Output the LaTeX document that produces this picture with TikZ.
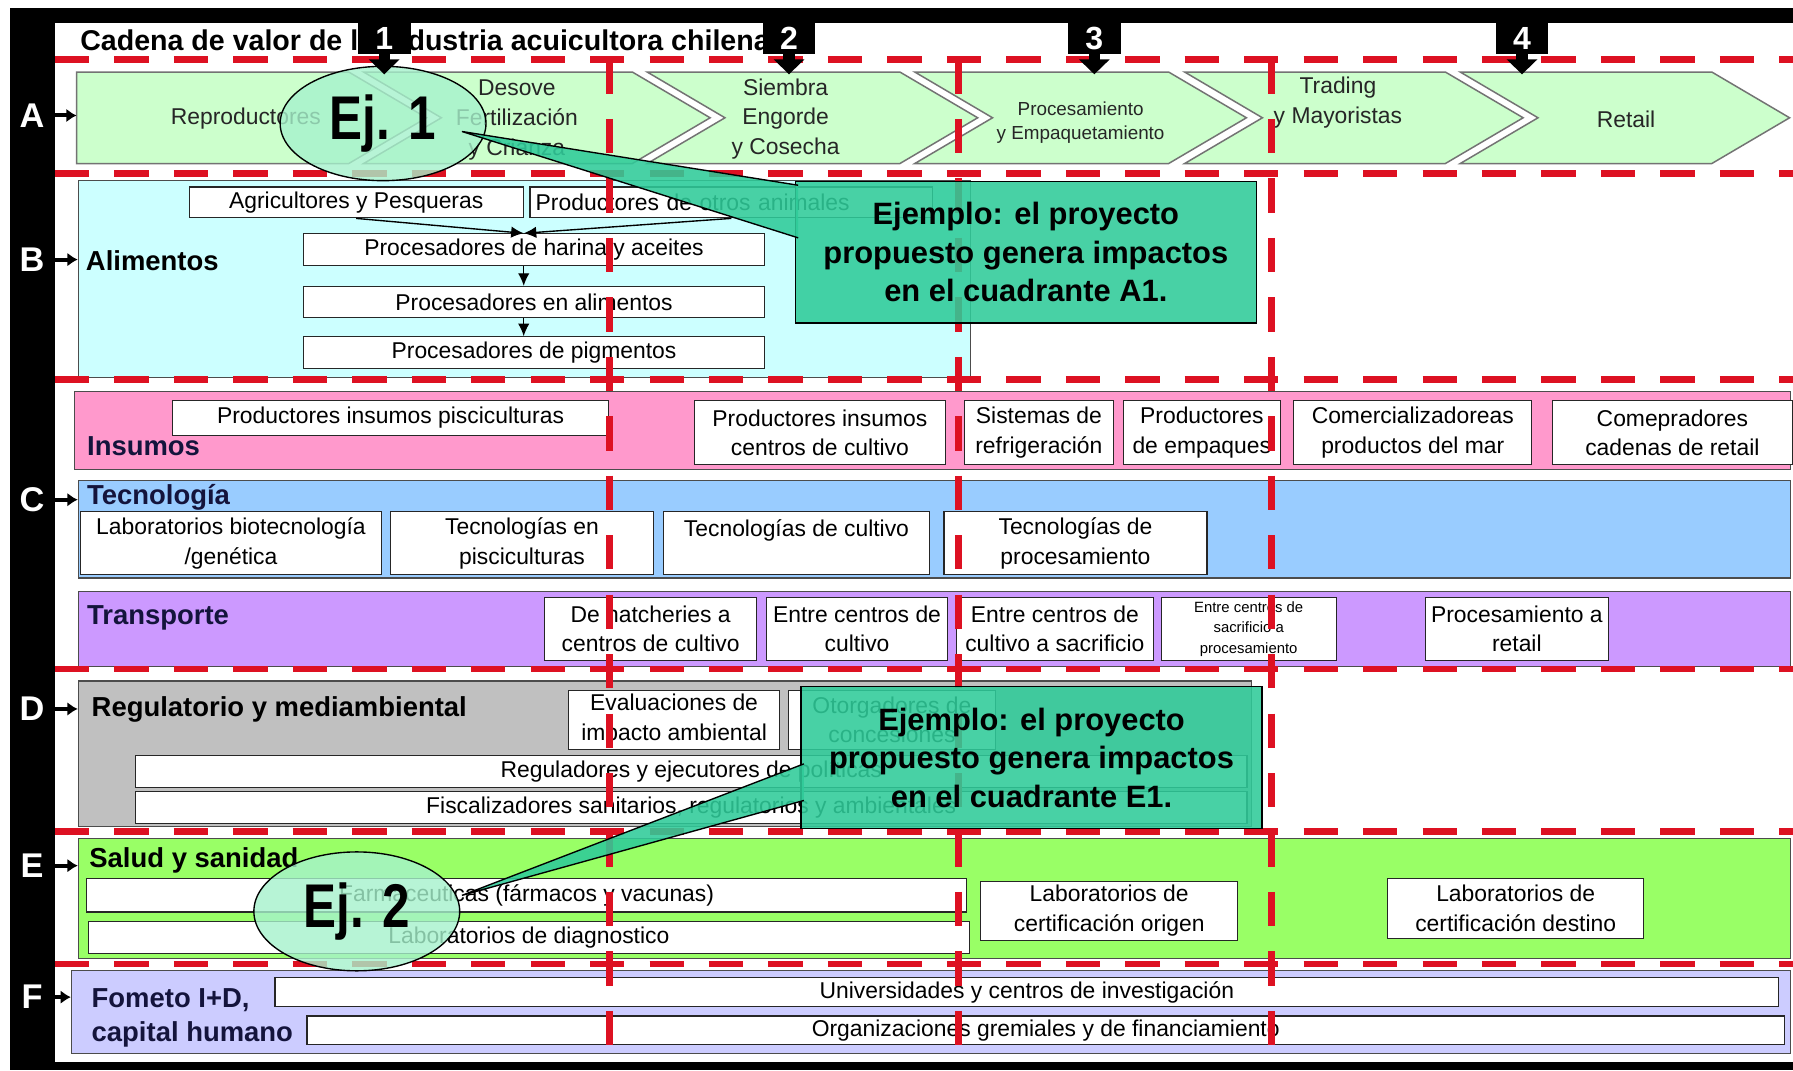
\documentclass[tikz,border=0pt]{standalone}
\usepackage{fontspec}
\setmainfont{Liberation Sans}
\newfontfamily\estrecha[FakeStretch=0.8]{Liberation Sans}
\usetikzlibrary{shapes.geometric, arrows.meta, positioning}
\definecolor{verdeA}{HTML}{CCFFCC}
\definecolor{cian}{HTML}{CCFFFF}
\definecolor{rosa}{HTML}{FF99CC}
\definecolor{celeste}{HTML}{99CCFF}
\definecolor{lila}{HTML}{CC99FF}
\definecolor{gris}{HTML}{C0C0C0}
\definecolor{pasto}{HTML}{99FF66}
\definecolor{lavanda}{HTML}{CCCCFF}
\definecolor{rojo}{HTML}{DD1122}
\definecolor{turquesa}{HTML}{2FCB99}
\definecolor{menta}{HTML}{A6F2CC}
\definecolor{marino}{HTML}{14143C}

\begin{document}
\begin{tikzpicture}[x=1pt, y=-1pt, >={Latex[length=11pt,width=10pt]},
  caja/.style 2 args={draw=black!85, line width=1pt, fill=white, align=center, inner sep=1pt,
    anchor=north west, minimum width=#1, minimum height=#2, font=\fontsize{20}{26}\selectfont},
  banda/.style 2 args={draw=black!70, line width=1pt, anchor=north west, inner sep=0pt,
    minimum width=#1, minimum height=#2},
  rotulo/.style={anchor=west, inner sep=0pt, text=marino, font=\fontsize{24}{30}\selectfont\bfseries},
  chev/.style={draw=black!55, line width=1.3pt, fill=verdeA},
  etapa/.style={align=center, text=black!85, font=\fontsize{20}{26}\selectfont},
  corte/.style={draw=rojo, line width=6pt, dash pattern=on 30pt off 22pt},
  ejemplo/.style={ellipse, draw=black, line width=1.2pt, fill=menta, fill opacity=0.8, text opacity=1,
    inner sep=0pt, font=\estrecha\fontsize{54}{54}\selectfont\bfseries},
  globo/.style={draw=black, line width=1.2pt, fill=turquesa, fill opacity=0.88, text opacity=1,
    align=center, anchor=north west, minimum width=403pt, minimum height=124pt,
    font=\fontsize{27}{33.5}\selectfont\bfseries},
  cola/.style={draw=black, line width=1.2pt, fill=turquesa, fill opacity=0.88},
  numero/.style={fill=black, text=white, inner sep=0pt, minimum width=46pt, minimum height=27pt,
    font=\fontsize{28}{28}\selectfont\bfseries},
  baja/.style={line width=10pt, -{Triangle[length=13pt,width=26pt]}},
  letra/.style={text=white, inner sep=0pt, font=\fontsize{30}{30}\selectfont\bfseries},
  entra/.style={line width=3.5pt, -{Latex[length=9pt,width=12pt]}}]

  \useasboundingbox (0,0) rectangle (1568,936);
  \fill[white] (0,0) rectangle (1568,936);
  % marco negro
  \fill[black] (9,7) rectangle (1568,20);
  \fill[black] (9,7) rectangle (48,936);
  \fill[black] (9,929) rectangle (1568,936);

  \node[anchor=west, inner sep=0pt, font=\fontsize{25}{30}\selectfont\bfseries] (titulo) at (70,35)
    {Cadena de valor de la industria acuicultora chilena};

  % A: etapas de la cadena
  \draw[chev] (67,63) -- (305,63) -- ++(68,40) -- (305,143) -- (67,143) -- cycle;
  \foreach \xa/\xb in {318/553, 566/787, 800/1022, 1036/1264, 1277/1497}
    \draw[chev] (\xa,63) -- (\xb,63) -- ++(68,40) -- (\xb,143) -- (\xa,143) -- ++(68,-40) -- cycle;
  \coordinate (ca) at (67,101);
  \node[etapa] (ch1) at (215,104) {Reproductores};
  \node[etapa] (ch2) at (452,105) {Desove\\Fertilización\\y Crianza};
  \node[etapa] (ch3) at (687,104) {Siembra\\Engorde\\y Cosecha};
  \node[etapa, font=\fontsize{16.5}{21}\selectfont] (ch4) at (945,107) {Procesamiento\\y Empaquetamiento};
  \node[etapa] (ch5) at (1170,90) {Trading\\y Mayoristas};
  \node[etapa] (ch6) at (1422,104) {Retail};

  % B: alimentos
  \node[banda={780pt}{173pt}, fill=cian] (bandaB) at (68,157) {};
  \node[rotulo, text=black] (tB) at (75,228) {Alimentos};
  \node[caja={292pt}{27pt}] (agri) at (165,163) {Agricultores y Pesqueras};
  \node[caja={352pt}{27pt}, text width=342pt, align=left, inner sep=4pt] (otros) at (463,163)
    {Productores de otros animales};
  \node[caja={403pt}{28pt}] (harina) at (265,204) {Procesadores de harina y aceites};
  \node[caja={403pt}{27pt}, below=17pt of harina] (alim) {Procesadores en alimentos};
  \node[caja={403pt}{28pt}, below=16pt of alim] (pigm) {Procesadores de pigmentos};
  \draw[->, line width=1.2pt] (agri.south) -- ([xshift=-9pt]harina.north);
  \draw[->, line width=1.2pt] (otros.south) -- ([xshift=-9pt]harina.north);
  \draw[->, line width=1.2pt] ([xshift=-9pt]harina.south) -- ([xshift=-9pt]alim.north);
  \draw[->, line width=1.2pt] ([xshift=-9pt]alim.south) -- ([xshift=-9pt]pigm.north);

  % C: insumos, tecnologia, transporte
  \node[banda={1500pt}{68pt}, fill=rosa] (bandaIns) at (65,342) {};
  \node[rotulo] (tIns) at (76,390) {Insumos};
  \node[caja={382pt}{30pt}] (ins1) at (150,350) {Productores insumos pisciculturas};
  \node[caja={219pt}{56pt}] (ins2) at (607,350) {Productores insumos\\centros de cultivo};
  \node[caja={130pt}{56pt}, right=16pt of ins2] (ins3) {Sistemas de\\refrigeración};
  \node[caja={137pt}{56pt}, right=8pt of ins3] (ins4) {Productores\\de empaques};
  \node[caja={208pt}{56pt}, right=11pt of ins4] (ins5) {Comercializadoreas\\productos del mar};
  \node[caja={210pt}{56pt}, right=17pt of ins5] (ins6) {Comepradores\\cadenas de retail};

  \node[banda={1497pt}{85pt}, fill=celeste] (bandaTec) at (68,420) {};
  \node[rotulo] (tTec) at (76,435) {Tecnología};
  \node[caja={263pt}{55pt}] (tec1) at (70,447) {Laboratorios biotecnología\\/genética};
  \node[caja={230pt}{55pt}, right=7pt of tec1] (tec2) {Tecnologías en\\pisciculturas};
  \node[caja={232pt}{55pt}, right=8pt of tec2] (tec3) {Tecnologías de cultivo\\~};
  \node[caja={230pt}{55pt}, right=12pt of tec3] (tec4) {Tecnologías de\\procesamiento};

  \node[banda={1497pt}{65pt}, fill=lila] (bandaTra) at (68,517) {};
  \node[rotulo] (tTra) at (76,540) {Transporte};
  \node[caja={185pt}{55pt}] (tra1) at (476,522) {De hatcheries a\\centros de cultivo};
  \node[caja={158pt}{55pt}, right=8pt of tra1] (tra2) {Entre centros de\\cultivo};
  \node[caja={172pt}{55pt}, right=7pt of tra2] (tra3) {Entre centros de\\cultivo a sacrificio};
  \node[caja={153pt}{55pt}, right=6pt of tra3, font=\fontsize{13}{18}\selectfont] (tra4)
    {Entre centros de\\sacrificio a\\procesamiento};
  \node[caja={160pt}{55pt}] (tra5) at (1246,522) {Procesamiento a\\retail};

  % D: regulatorio
  \node[banda={1026pt}{127pt}, fill=gris] (bandaReg) at (68,595) {};
  \node[rotulo, text=black] (tReg) at (80,620) {Regulatorio y mediambiental};
  \node[caja={184pt}{52pt}] (reg1) at (497,603) {Evaluaciones de\\impacto ambiental};
  \node[caja={181pt}{52pt}] (reg2) at (689,603) {Otorgadores de\\concesiones};
  \node[caja={972pt}{28pt}] (reg3) at (118,660) {Reguladores y ejecutores de políticas};
  \node[caja={972pt}{28pt}] (reg4) at (118,692) {Fiscalizadores sanitarios, regulatorios y ambientales};

  % E: salud
  \node[banda={1497pt}{105pt}, fill=pasto] (bandaSal) at (68,733) {};
  \node[rotulo, text=black] (tSal) at (78,752) {Salud y sanidad};
  \node[caja={770pt}{29pt}] (sal1) at (75,768) {Farmaceuticas (fármacos y vacunas)};
  \node[caja={770pt}{28pt}] (sal2) at (77,805) {Laboratorios de diagnostico};
  \node[caja={225pt}{52pt}] (sal3) at (857,770) {Laboratorios de\\certificación origen};
  \node[caja={224pt}{52pt}] (sal4) at (1213,768) {Laboratorios de\\certificación destino};

  % F: fomento
  \node[banda={1503pt}{73pt}, fill=lavanda] (bandaFom) at (62,848) {};
  \node[rotulo, align=left] (tFom) at (80,890) {Fometo I+D,\\capital humano};
  \node[caja={1315pt}{26pt}] (fom1) at (240,854) {Universidades y centros de investigación};
  \node[caja={1292pt}{25pt}] (fom2) at (268,888) {Organizaciones gremiales y de financiamiento};

  % cuadrantes
  \foreach \y in {52,152,332,585,727,843}
    \draw[corte] (48,\y) -- (1568,\y);
  \foreach \x in {533,838,1112}
    \draw[corte] (\x,52) -- (\x,928);

  % ejemplos
  \node[ejemplo, minimum width=180pt, minimum height=100pt] (e1) at (335,108) {Ej. 1};
  \node[ejemplo, minimum width=180pt, minimum height=104pt] (e2) at (312,797) {Ej. 2};
  \node[globo] (c1) at (695,158) {Ejemplo: el proyecto\\propuesto genera impactos\\en el cuadrante A1.};
  \filldraw[cola] ([shift={(3,4)}]c1.north west) -- ([shift={(69,7)}]e1.center)
    -- ([shift={(3,50)}]c1.north west);
  \node[globo] (c2) at (700,600) {Ejemplo: el proyecto\\propuesto genera impactos\\en el cuadrante E1.};
  \filldraw[cola] ([shift={(3,68)}]c2.north west) -- ([shift={(92,-14)}]e2.center)
    -- ([shift={(3,100)}]c2.north west);

  % columnas 1-4
  \foreach \n/\x in {1/336, 2/690, 3/957, 4/1331} {
    \node[numero] (n\n) at (\x,33.5) {\n};
    \coordinate (p\n) at (\x,65);
    \draw[baja] (n\n.south) -- (p\n);
  }

  % filas A-F
  \node[letra] (lA) at (28,101) {A};
  \node[letra] (lB) at (28,227) {B};
  \node[letra] (lC) at (28,437) {C};
  \node[letra] (lD) at (28,620) {D};
  \node[letra] (lE) at (28,757) {E};
  \node[letra] (lF) at (28,872) {F};
  \draw[entra] (lA.east) -- (ca);
  \draw[entra] (lB.east) -- (lB -| bandaB.west);
  \draw[entra] (lC.east) -- (lC -| bandaTec.west);
  \draw[entra] (lD.east) -- (lD -| bandaReg.west);
  \draw[entra] (lE.east) -- (lE -| bandaSal.west);
  \draw[entra] (lF.east) -- (lF -| bandaFom.west);
\end{tikzpicture}
\end{document}
